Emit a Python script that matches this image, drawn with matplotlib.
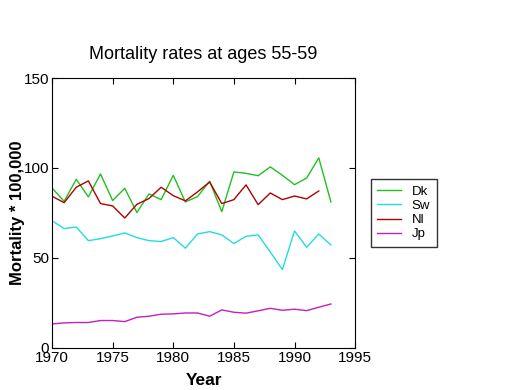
import matplotlib
matplotlib.use("Agg")
import matplotlib.pyplot as plt

plt.rcParams['font.family'] = ['Liberation Sans', 'DejaVu Sans']

years = list(range(1970, 1994))

dk = [88.9, 81.5, 93.7, 83.9, 96.7, 81.9, 88.7, 75.2, 85.6, 82.4, 95.9, 81.1,
      84.1, 92.6, 75.7, 97.8, 97.0, 95.7, 100.6, 95.9, 90.7, 94.4, 105.6, 81.1]
sw = [70.7, 66.3, 67.2, 59.6, 60.7, 62.2, 63.9, 61.3, 59.6, 59.1, 61.3, 55.4,
      63.3, 64.6, 62.8, 58.0, 62.0, 62.8, 53.3, 43.5, 65.0, 55.9, 63.3, 57.2]
nl = [84.3, 80.7, 89.3, 92.8, 80.2, 78.9, 72.2, 79.8, 83.0, 89.3, 84.6, 81.7,
      86.7, 92.2, 80.2, 82.4, 90.6, 79.6, 86.1, 82.4, 84.4, 82.8, 87.2]
jp = [13.3, 13.9, 14.1, 14.1, 15.2, 15.2, 14.6, 17.0, 17.6, 18.7, 18.9, 19.4,
      19.4, 17.6, 21.1, 19.8, 19.3, 20.6, 22.0, 20.9, 21.5, 20.7, 22.6, 24.4]

narrow = ['Liberation Sans Narrow', 'Liberation Sans']

fig = plt.figure(figsize=(5.2, 3.9), dpi=100)
ax = fig.add_axes([0.1, 0.108, 0.583, 0.692])

ax.plot(years, dk, color='#22c022', lw=1, label='Dk')
ax.plot(years, sw, color='#22dddd', lw=1, label='Sw')
ax.plot(years[:len(nl)], nl, color='#b00000', lw=1, label='Nl')
ax.plot(years, jp, color='#c020c0', lw=1, label='Jp')

ax.set_xlim(1970, 1995)
ax.set_ylim(0, 150)
ax.set_xticks([1970, 1975, 1980, 1985, 1990, 1995])
ax.set_yticks([0, 50, 100, 150])
ax.tick_params(direction='in', top=True, right=True, length=4, pad=2)
for lab in ax.get_xticklabels() + ax.get_yticklabels():
    lab.set_family(narrow)
    lab.set_fontsize(11)
ax.set_title('Mortality rates at ages 55-59', fontsize=13, pad=14)
ax.set_xlabel('Year', fontsize=12.5, fontweight='bold', labelpad=6)
ax.set_ylabel('Mortality * 100,000', fontsize=12, fontweight='bold', labelpad=-1)

leg = ax.legend(loc='center left', bbox_to_anchor=(1.03, 0.5),
                prop={'family': narrow, 'size': 9.5},
                frameon=True, fancybox=False, edgecolor='black',
                handlelength=1.8, handletextpad=0.8, borderpad=0.5,
                labelspacing=0.15)
leg.get_frame().set_linewidth(1)

fig.savefig('out.png', dpi=100)
